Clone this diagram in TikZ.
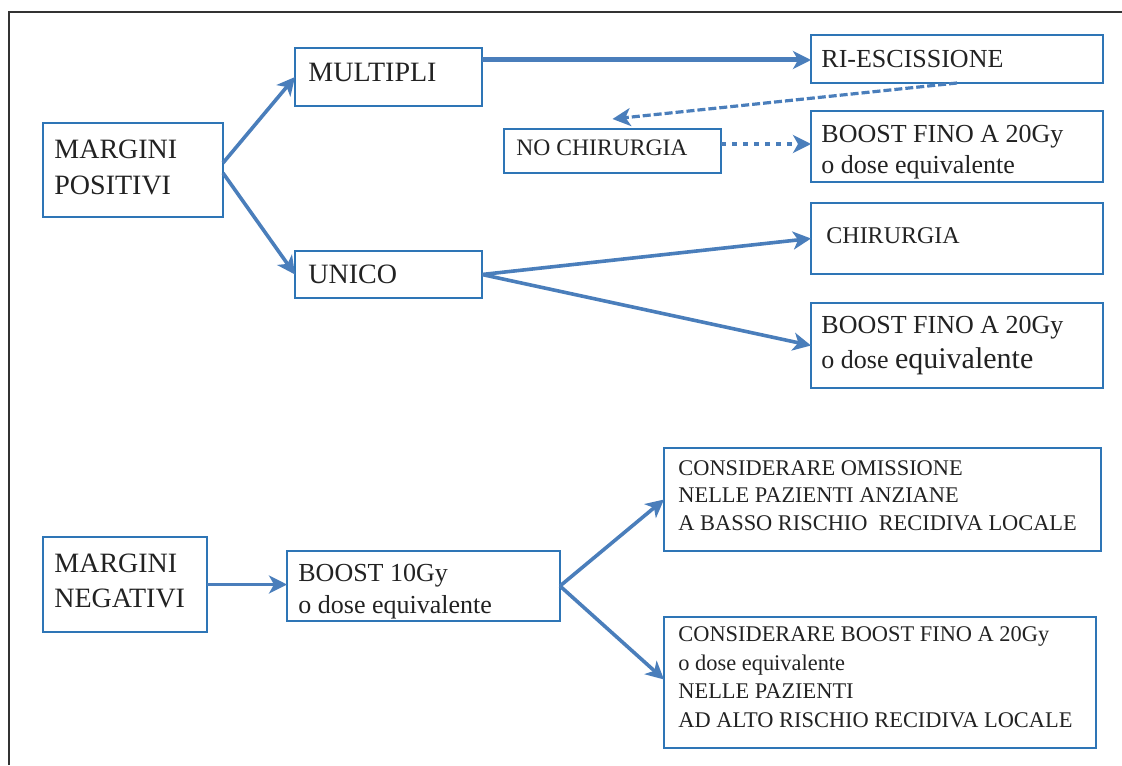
\documentclass[tikz,border=0pt]{standalone}
\usepackage{fontspec}
\setmainfont{Liberation Serif}
\usetikzlibrary{arrows.meta}
\definecolor{boxblue}{HTML}{2E75B6}
\definecolor{arrblue}{HTML}{4A7EBB}
\definecolor{ink}{HTML}{222222}
\begin{document}
\begin{tikzpicture}[x=0.5pt,y=-0.5pt,
  box/.style={draw=boxblue,line width=1.3pt,rectangle,inner sep=0pt,outer sep=0pt,anchor=north west},
  txt/.style={anchor=base west,inner sep=0pt,align=left,text=ink},
  conn/.style={draw=arrblue,line width=1.8pt,-{Stealth[length=9pt,width=9pt,inset=2.5pt]}},
  thick conn/.style={conn,line width=2.5pt},
  dashconn/.style={conn,line width=1.6pt,dash pattern=on 4pt off 1.5pt},
  dotconn/.style={conn,line width=1.8pt,dash pattern=on 2.5pt off 3pt},
]
\useasboundingbox (0,0) rectangle (1122,765);
% frame
\draw[line width=0.8pt,black!80] (9,765) -- (9,12) -- (1122,12);

% boxes
\node[box,minimum width=90pt,minimum height=47pt] (mp) at (43,123) {};
\node[box,minimum width=93.5pt,minimum height=29pt] (mul) at (295,48) {};
\node[box,minimum width=93.5pt,minimum height=23.5pt] (uni) at (295,251) {};
\node[box,minimum width=146pt,minimum height=24pt] (ri) at (811,35) {};
\node[box,minimum width=108.5pt,minimum height=22pt] (noc) at (504,129) {};
\node[box,minimum width=146pt,minimum height=35.5pt] (b1) at (811,111) {};
\node[box,minimum width=146pt,minimum height=35.5pt] (chi) at (811,203) {};
\node[box,minimum width=146pt,minimum height=42.5pt] (b2) at (811,303) {};
\node[box,minimum width=82pt,minimum height=47.5pt] (mn) at (43,537) {};
\node[box,minimum width=136.5pt,minimum height=35pt] (b10) at (287,551) {};
\node[box,minimum width=218.5pt,minimum height=51.5pt] (co) at (664,448) {};
\node[box,minimum width=216pt,minimum height=65.5pt] (cb) at (664,617) {};

% texts (anchor = baseline of the last line)
\node[txt,font=\fontsize{14pt}{18pt}\selectfont] (tmp) at (54,194) {MARGINI\\POSITIVI};
\node[txt,font=\fontsize{14pt}{18pt}\selectfont] (tmul) at (308,82) {MULTIPLI};
\node[txt,font=\fontsize{14pt}{18pt}\selectfont] (tuni) at (308,283) {UNICO};
\node[txt,font=\fontsize{13pt}{16pt}\selectfont] (tri) at (821,68) {RI-ESCISSIONE};
\node[txt,font=\fontsize{11.8pt}{14pt}\selectfont] (tnoc) at (516,155) {NO CHIRURGIA};
\node[txt,font=\fontsize{13pt}{15.5pt}\selectfont] (tb1) at (821,173) {BOOST FINO A 20Gy\\o dose equivalente};
\node[txt,font=\fontsize{12pt}{14pt}\selectfont] (tchi) at (826,243) {CHIRURGIA};
\node[txt,font=\fontsize{13pt}{17.5pt}\selectfont] (tb2) at (821,368) {BOOST FINO A 20Gy\\o dose {\fontsize{15pt}{17.5pt}\selectfont equivalente}};
\node[txt,font=\fontsize{14pt}{17.5pt}\selectfont] (tmn) at (54,607) {MARGINI\\NEGATIVI};
\node[txt,font=\fontsize{13pt}{16pt}\selectfont] (tb10) at (298,613) {BOOST 10Gy\\o dose equivalente};
\node[txt,font=\fontsize{11.2pt}{13.75pt}\selectfont] (tco) at (678,530) {CONSIDERARE OMISSIONE\\NELLE PAZIENTI ANZIANE\\A BASSO RISCHIO\ \ RECIDIVA LOCALE};
\node[txt,font=\fontsize{11.2pt}{14.2pt}\selectfont] (tcb) at (678,727) {CONSIDERARE BOOST FINO A 20Gy\\o dose equivalente\\NELLE PAZIENTI\\AD ALTO RISCHIO RECIDIVA LOCALE};

% connectors
\draw[conn] ([yshift=3.5pt]mp.east) -- (mul.west);
\draw[conn] ([yshift=-1.5pt]mp.east) -- (uni.west);
\coordinate (mulout) at ([yshift=8.5pt]mul.east);
\draw[thick conn] (mulout) -- (mulout -| ri.west);
\draw[dashconn] (ri.south) -- ([yshift=5pt]noc.north);
\coordinate (nocout) at ([yshift=3.5pt]noc.east);
\draw[dotconn] (nocout) -- (nocout -| b1.west);
\draw[conn] (uni.east) -- (chi.west);
\draw[conn] (uni.east) -- (b2.west);
\draw[conn] (mn.east) -- (mn.east -| b10.west);
\draw[conn] (b10.east) -- (co.west);
\draw[conn] (b10.east) -- ([yshift=1.5pt]cb.west);
\end{tikzpicture}
\end{document}
